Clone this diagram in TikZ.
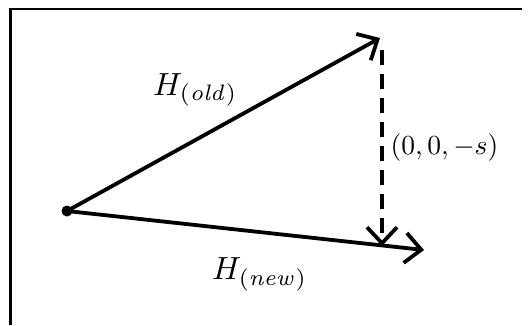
\documentclass[tikz,border=0pt]{standalone}
\usetikzlibrary{arrows.meta, calc, positioning}

\begin{document}
\begin{tikzpicture}[x=1pt, y=-1pt, >={Straight Barb[length=16pt, width=30pt, line width=3.8pt]}, line width=3.8pt,
  every node/.style={scale=3.2, inner sep=0.5pt}]
  \useasboundingbox (0,0) rectangle (531,325);
  \draw[line width=2.8pt] (10.5,325) -- (10.5,9) -- (522,9);
  \coordinate (origin) at (67,211);
  \coordinate (hOld) at (380,38);
  \coordinate (hNew) at (424,250);
  \coordinate (shiftEnd) at (382,246);
  \fill (origin) circle (5.5pt);
  \draw[->] (origin) -- (hOld) node[pos=0.41, above=26pt] (oldLabel) {$H_{(\mathit{old})}$};
  \draw[->] (origin) -- (hNew) node[pos=0.54, below=18pt] (newLabel) {$H_{(\mathit{new})}$};
  \draw[->, dash pattern=on 15pt off 9pt] ($(hOld)+(2,12)$) -- (shiftEnd) node[midway, right=2pt, scale=0.86] (shiftLabel) {$(0,0,-s)$};
\end{tikzpicture}
\end{document}
